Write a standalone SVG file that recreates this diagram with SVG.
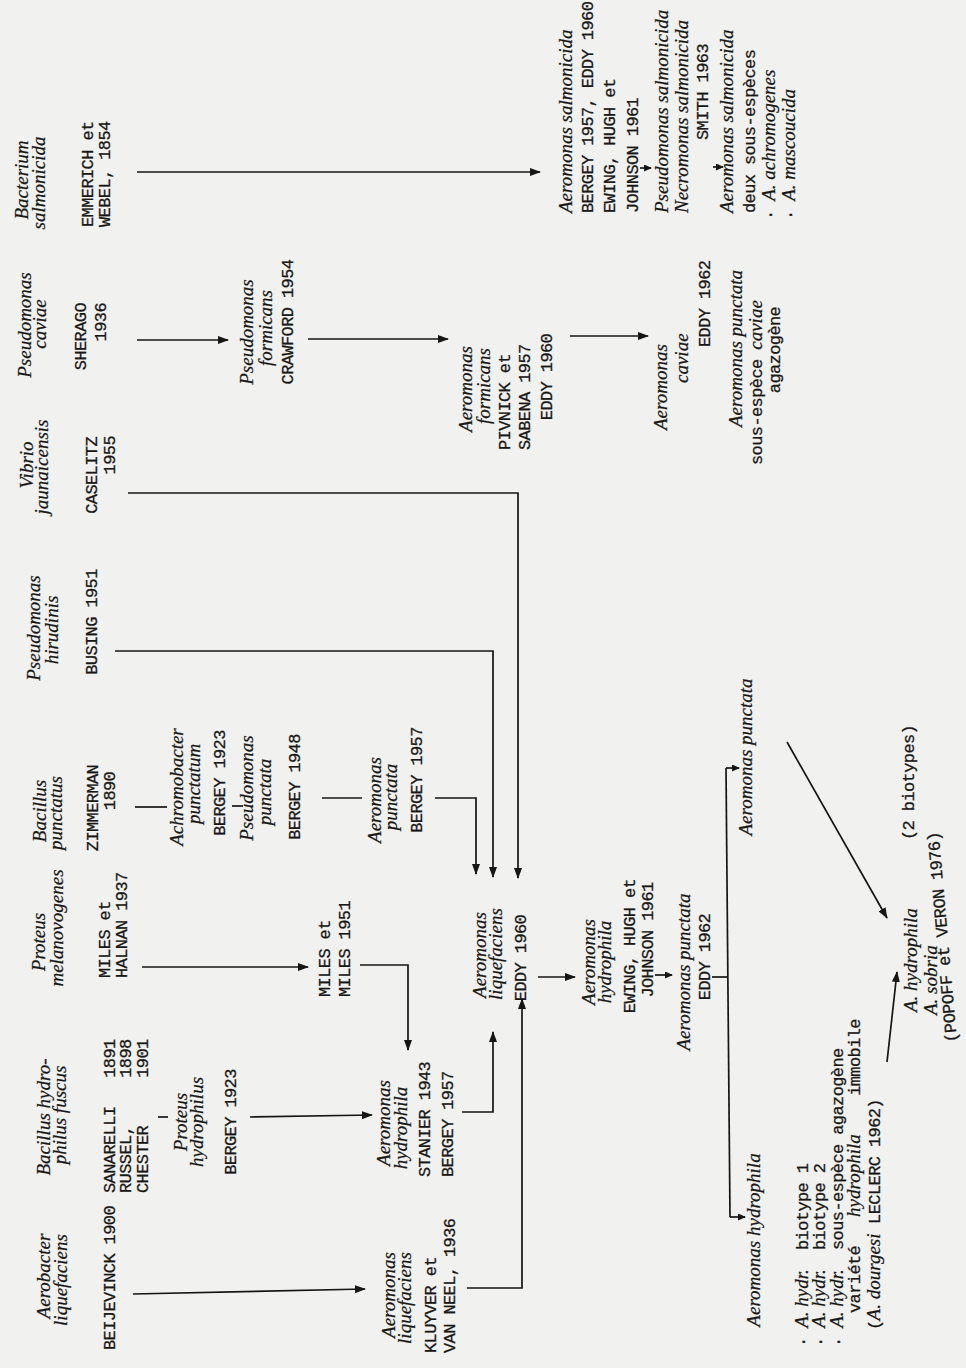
<svg xmlns="http://www.w3.org/2000/svg" width="966" height="1368" viewBox="0 0 966 1368">
<defs>
<style>
.i{font-family:"Liberation Serif",serif;font-style:italic;font-size:19px;fill:#181818;stroke:#181818;stroke-width:0.25}
.m{font-family:"Liberation Mono",monospace;font-size:17px;letter-spacing:-0.6px;fill:#181818;stroke:#181818;stroke-width:0.3}
.mid{text-anchor:middle}
.end{text-anchor:end}
.c{fill:none;stroke:#161616;stroke-width:1.7}
.a{marker-end:url(#ah)}
.as{marker-end:url(#ahs)}
</style>
<marker id="ah" markerUnits="userSpaceOnUse" markerWidth="11" markerHeight="8" refX="10" refY="4" orient="auto"><path d="M0,0 L11,4 L0,8 z" fill="#161616"/></marker>
<marker id="ahs" markerUnits="userSpaceOnUse" markerWidth="8" markerHeight="7" refX="7" refY="3.5" orient="auto"><path d="M0,0 L8,3.5 L0,7 z" fill="#161616"/></marker>
</defs>
<rect width="966" height="1368" fill="#f1f1ef"/>

<g id="bacterium-salmonicida" transform="rotate(-90)">
<text class="i mid" x="-180" y="28">Bacterium</text>
<text class="i mid" x="-183" y="45">salmonicida</text>
<text class="m" x="-227" y="93">EMMERICH et</text>
<text class="m" x="-227" y="110">WEBEL, 1854</text>
</g>
<g id="pseudomonas-caviae" transform="rotate(-90)">
<text class="i mid" x="-325" y="31">Pseudomonas</text>
<text class="i mid" x="-324" y="46">caviae</text>
<text class="m end" x="-303" y="86">SHERAGO</text>
<text class="m end" x="-303" y="106">1936</text>
</g>
<g id="vibrio-jaunaicensis" transform="rotate(-90)">
<text class="i mid" x="-465" y="33">Vibrio</text>
<text class="i mid" x="-467" y="48">jaunaicensis</text>
<text class="m end" x="-437" y="97">CASELITZ</text>
<text class="m end" x="-436" y="115">1955</text>
</g>
<g id="pseudomonas-hirudinis" transform="rotate(-90)">
<text class="i mid" x="-628" y="40">Pseudomonas</text>
<text class="i mid" x="-630" y="58">hirudinis</text>
<text class="m mid" x="-622" y="97">BUSING 1951</text>
</g>
<g id="bacillus-punctatus" transform="rotate(-90)">
<text class="i mid" x="-811" y="46">Bacillus</text>
<text class="i mid" x="-813" y="62">punctatus</text>
<text class="m mid" x="-808" y="98">ZIMMERMAN</text>
<text class="m mid" x="-791" y="115">1890</text>
</g>
<g id="proteus-melanovogenes" transform="rotate(-90)">
<text class="i mid" x="-942" y="45">Proteus</text>
<text class="i mid" x="-928" y="63">melanovogenes</text>
<text class="m" x="-978" y="110">MILES et</text>
<text class="m" x="-978" y="127">HALNAN 1937</text>
</g>
<g id="bacillus-hydrophilus" transform="rotate(-90)">
<text class="i mid" x="-1117" y="50">Bacillus hydro-</text>
<text class="i mid" x="-1115" y="66">philus fuscus</text>
<text class="m" x="-1193" y="115" xml:space="preserve">SANARELLI   1891</text>
<text class="m" x="-1193" y="131" xml:space="preserve">RUSSEL,     1898</text>
<text class="m" x="-1193" y="148" xml:space="preserve">CHESTER     1901</text>
</g>
<g id="aerobacter-liquefaciens" transform="rotate(-90)">
<text class="i mid" x="-1276" y="50">Aerobacter</text>
<text class="i mid" x="-1280" y="67">liquefaciens</text>
<text class="m mid" x="-1278" y="115">BEIJEVINCK 1900</text>
</g>

<g id="achromobacter-punctatum" transform="rotate(-90)">
<text class="i mid" x="-787" y="183">Achromobacter</text>
<text class="i mid" x="-784" y="200">punctatum</text>
<text class="m mid" x="-783" y="225">BERGEY 1923</text>
</g>
<g id="pseudomonas-punctata" transform="rotate(-90)">
<text class="i mid" x="-788" y="253">Pseudomonas</text>
<text class="i mid" x="-792" y="271">punctata</text>
<text class="m mid" x="-787" y="300">BERGEY 1948</text>
</g>
<g id="aeromonas-punctata-bergey" transform="rotate(-90)">
<text class="i mid" x="-800" y="381">Aeromonas</text>
<text class="i mid" x="-797" y="397">punctata</text>
<text class="m mid" x="-780" y="422">BERGEY 1957</text>
</g>
<g id="pseudomonas-formicans" transform="rotate(-90)">
<text class="i mid" x="-332" y="253">Pseudomonas</text>
<text class="i mid" x="-328" y="272">formicans</text>
<text class="m mid" x="-322" y="293">CRAWFORD 1954</text>
</g>
<g id="proteus-hydrophilus" transform="rotate(-90)">
<text class="i mid" x="-1122" y="187">Proteus</text>
<text class="i mid" x="-1122" y="203">hydrophilus</text>
<text class="m mid" x="-1122" y="236">BERGEY 1923</text>
</g>
<g id="miles-miles" transform="rotate(-90)">
<text class="m" x="-997" y="330">MILES et</text>
<text class="m" x="-997" y="350">MILES 1951</text>
</g>
<g id="aeromonas-hydrophila-stanier" transform="rotate(-90)">
<text class="i mid" x="-1123" y="390">Aeromonas</text>
<text class="i mid" x="-1128" y="407">hydrophila</text>
<text class="m" x="-1177" y="430">STANIER 1943</text>
<text class="m" x="-1177" y="453">BERGEY 1957</text>
</g>
<g id="aeromonas-liquefaciens-kluyver" transform="rotate(-90)">
<text class="i mid" x="-1295" y="395">Aeromonas</text>
<text class="i mid" x="-1298" y="411">liquefaciens</text>
<text class="m" x="-1353" y="436">KLUYVER et</text>
<text class="m" x="-1353" y="455">VAN NEEL, 1936</text>
</g>
<g id="aeromonas-liquefaciens-eddy" transform="rotate(-90)">
<text class="i mid" x="-955" y="486">Aeromonas</text>
<text class="i mid" x="-954" y="502">liquefaciens</text>
<text class="m mid" x="-958" y="526">EDDY 1960</text>
</g>
<g id="aeromonas-formicans" transform="rotate(-90)">
<text class="i mid" x="-389" y="472">Aeromonas</text>
<text class="i mid" x="-386" y="490">formicans</text>
<text class="m" x="-450" y="510">PIVNICK et</text>
<text class="m" x="-450" y="530">SABENA 1957</text>
<text class="m mid" x="-377" y="552">EDDY 1960</text>
</g>
<g id="aeromonas-salmonicida" transform="rotate(-90)">
<text class="i" x="-213" y="572">Aeromonas salmonicida</text>
<text class="m" x="-213" y="593">BERGEY 1957, EDDY 1960</text>
<text class="m" x="-213" y="615">EWING, HUGH et</text>
<text class="m" x="-213" y="638">JOHNSON 1961</text>
</g>
<g id="pseudomonas-salmonicida" transform="rotate(-90)">
<text class="i" x="-213" y="668">Pseudomonas salmonicida</text>
<text class="i" x="-213" y="688">Necromonas salmonicida</text>
<text class="m mid" x="-92" y="708">SMITH 1963</text>
</g>
<g id="aeromonas-salmonicida-ssp" transform="rotate(-90)">
<text class="i" x="-213" y="733">Aeromonas salmonicida</text>
<text class="m" x="-213" y="755">deux sous-espèces</text>
<text x="-220" y="775"><tspan class="m">· </tspan><tspan class="i">A. achromogenes</tspan></text>
<text x="-220" y="795"><tspan class="m">· </tspan><tspan class="i">A. mascoucida</tspan></text>
</g>
<g id="aeromonas-caviae" transform="rotate(-90)">
<text class="i" x="-430" y="667">Aeromonas</text>
<text class="i" x="-383" y="688">caviae</text>
<text class="m" x="-347" y="710">EDDY 1962</text>
</g>
<g id="aeromonas-punctata-caviae" transform="rotate(-90)">
<text class="i" x="-427" y="742">Aeromonas punctata</text>
<text x="-465" y="762"><tspan class="m">sous-espèce </tspan><tspan class="i">caviae</tspan></text>
<text class="m mid" x="-350" y="780">agazogène</text>
</g>
<g id="aeromonas-hydrophila-ewing" transform="rotate(-90)">
<text class="i mid" x="-962" y="595">Aeromonas</text>
<text class="i mid" x="-962" y="611">hydrophila</text>
<text class="m mid" x="-946" y="635">EWING, HUGH et</text>
<text class="m mid" x="-940" y="653">JOHNSON 1961</text>
</g>
<g id="aeromonas-punctata-eddy" transform="rotate(-90)">
<text class="i mid" x="-972" y="690">Aeromonas punctata</text>
<text class="m mid" x="-957" y="710">EDDY 1962</text>
</g>
<g id="aeromonas-punctata" transform="rotate(-90)">
<text class="i mid" x="-757" y="752">Aeromonas punctata</text>
</g>
<g id="aeromonas-hydrophila" transform="rotate(-90)">
<text class="i mid" x="-1240" y="760">Aeromonas hydrophila</text>
</g>
<g id="hydrophila-varieties" transform="rotate(-90)">
<text x="-1347" y="808" xml:space="preserve"><tspan class="m">· </tspan><tspan class="i">A. hydr.</tspan><tspan class="m">  biotype 1</tspan></text>
<text x="-1347" y="825" xml:space="preserve"><tspan class="m">· </tspan><tspan class="i">A. hydr.</tspan><tspan class="m">  biotype 2</tspan></text>
<text x="-1347" y="843" xml:space="preserve"><tspan class="m">· </tspan><tspan class="i">A. hydr.</tspan><tspan class="m">  sous-espèce agazogène</tspan></text>
<text x="-1313" y="860" xml:space="preserve"><tspan class="m">variété   </tspan><tspan class="i">hydrophila</tspan><tspan class="m">    immobile</tspan></text>
<text x="-1330" y="880" xml:space="preserve"><tspan class="m">(</tspan><tspan class="i">A. dourgesi</tspan><tspan class="m"> LECLERC 1962)</tspan></text>
</g>
<g id="hydrophila-sobria">
<text class="i" transform="translate(917,1012) rotate(-90)">A. hydrophila</text>
<text class="m" transform="translate(914,840) rotate(-90)">(2 biotypes)</text>
<text class="i" transform="translate(937,1015) rotate(-90)">A. sobria</text>
<text class="m" transform="translate(957,1042) rotate(-95)">(POPOFF et VERON 1976)</text>
</g>

<g id="connectors" class="c">
<path class="a" d="M137,172H540"/>
<path class="a" d="M137,340H228"/>
<path class="a" d="M308,339H448"/>
<path class="a" d="M570,336H648"/>
<path class="a" d="M128,493H518V878"/>
<path class="a" d="M115,651H493V877"/>
<path d="M135,807H167"/>
<path d="M232,806H243"/>
<path d="M322,798H362"/>
<path class="a" d="M435,798H476V874"/>
<path class="a" d="M142,967H308"/>
<path class="a" d="M360,965H408V1050"/>
<path d="M158,1117H168"/>
<path class="a" d="M250,1117L372,1115"/>
<path class="a" d="M133,1294L365,1289"/>
<path class="a" d="M462,1112H493V1032"/>
<path class="a" d="M467,1288H522V999"/>
<path class="a" d="M538,977H575"/>
<path class="as" d="M655,975H672"/>
<path d="M712,977H728"/>
<path d="M726,768L730,1217"/>
<path class="as" d="M726,768H739"/>
<path class="as" d="M730,1217H745"/>
<path class="a" d="M787,742L887,918"/>
<path class="a" d="M887,1062L897,972"/>
<path class="as" d="M640,168H651"/>
<path class="as" d="M713,167H723"/>
</g>
</svg>
